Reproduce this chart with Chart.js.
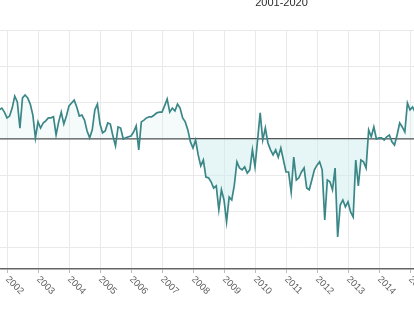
<!DOCTYPE html>
<html><head><meta charset="utf-8">
<script src="https://cdn.jsdelivr.net/npm/chart.js@4/dist/chart.umd.min.js"></script>
<style>
html,body{margin:0;padding:0;width:414px;height:311px;overflow:hidden;background:#fff;}
#wrap{position:absolute;left:-64px;top:-4px;width:691px;height:315px;}
</style></head><body>
<div id="wrap"><canvas id="c"></canvas></div>
<script>
const titleText = '2001-2020';
const startYear = 2001;
const startMonth = 9; // first value is September 2001
const values = [
  0.70, 0.80, 0.85, 0.74,
  0.58, 0.63, 0.85, 1.18, 1.02, 0.30, 1.13, 1.21, 1.13, 0.96, 0.66, 0.03,
  0.47, 0.30, 0.44, 0.50, 0.58, 0.58, 0.61, 0.11, 0.47, 0.74, 0.41, 0.63,
  0.91, 0.99, 1.07, 0.88, 0.63, 0.66, 0.52, 0.22, 0.03, 0.25, 0.80, 0.96,
  0.41, 0.17, 0.22, 0.44, 0.41, 0.08, -0.19, 0.33, 0.30, 0.00, 0.03, 0.06,
  0.08, 0.19, 0.36, -0.30, 0.47, 0.52, 0.58, 0.61, 0.61, 0.66, 0.72, 0.74,
  0.74, 0.91, 1.10, 0.74, 0.85, 0.77, 0.96, 0.85, 0.58, 0.47, 0.25, -0.08,
  -0.25, -0.03, -0.44, -0.74, -0.58, -1.05, -1.07, -1.18, -1.35, -1.29, -1.95, -1.40,
  -1.68, -2.28, -1.60, -1.68, -1.27, -0.63, -0.80, -0.85, -0.77, -0.94, -0.85, -0.30,
  -0.77, -0.03, 0.72, -0.03, 0.30, -0.11, -0.30, -0.44, -0.30, -0.50, -0.25, -0.58,
  -0.91, -0.91, -1.46, -0.50, -1.13, -1.07, -0.91, -0.80, -1.35, -1.40, -1.13, -0.85,
  -0.72, -0.63, -0.85, -2.23, -1.13, -1.18, -1.40, -0.80, -2.70, -1.82, -1.68, -1.87,
  -1.73, -2.01, -2.15, -0.58, -1.29, -0.58, -0.63, -0.80, 0.25, 0.06, 0.33, 0.00,
  0.03, 0.03, -0.03, 0.06, 0.11, -0.08, -0.17, 0.11, 0.44, 0.33, 0.19, 0.99,
  0.80, 0.88, 0.74
];
const yearTicks = [2001,2002,2003,2004,2005,2006,2007,2008,2009,2010,2011,2012,2013,2014,2015,2016,2017,2018,2019,2020,2021];
const yTicks = [-3,-2,-1,0,1,2,3];
const yMin = -3.58, yMax = 3;
const xMin = 2001, xMax = 2022;

const points = values.map((v, i) => ({ x: startYear + (startMonth - 1 + i) / 12, y: v }));

const rotatedYearLabels = {
  id: 'rotatedYearLabels',
  afterDraw(chart) {
    const xs = chart.scales.x;
    const ctx = chart.ctx;
    ctx.save();
    ctx.font = '9.5px "Liberation Sans", Arial, sans-serif';
    ctx.fillStyle = '#5e5e5e';
    ctx.textAlign = 'left';
    ctx.textBaseline = 'top';
    yearTicks.forEach(yr => {
      const px = xs.getPixelForValue(yr);
      ctx.save();
      ctx.translate(px + 3.5, xs.top + 5.5);
      ctx.rotate(Math.PI / 4);
      ctx.fillText(String(yr), 0, 0);
      ctx.restore();
    });
    ctx.restore();
  }
};

new Chart(document.getElementById('c'), {
  type: 'line',
  data: {
    datasets: [{
      data: points,
      borderColor: '#3b8787',
      borderWidth: 1.7,
      pointRadius: 0,
      tension: 0,
      fill: { value: 0, above: 'rgba(215,238,238,0.25)', below: 'rgba(205,235,235,0.5)' },
      backgroundColor: 'rgba(205,235,235,0.45)'
    }]
  },
  options: {
    responsive: true,
    maintainAspectRatio: false,
    devicePixelRatio: 1,
    animation: false,
    layout: { padding: 0 },
    plugins: {
      legend: { display: false },
      tooltip: { enabled: false },
      title: {
        display: true,
        text: titleText,
        color: '#2a2a2a',
        font: { size: 11, family: '"Liberation Sans", Arial, sans-serif', weight: 'normal', lineHeight: 1.2 },
        padding: { top: 0, bottom: 20.8 }
      }
    },
    scales: {
      x: {
        type: 'linear',
        min: xMin, max: xMax,
        afterBuildTicks: s => { s.ticks = yearTicks.map(v => ({ value: v })); },
        afterFit: s => { s.height = 42; },
        ticks: { display: false },
        grid: { color: '#e9e9e9', lineWidth: 1, tickLength: 4, drawTicks: true, tickColor: '#bbb' },
        border: { color: '#666', width: 1.5 }
      },
      y: {
        type: 'linear',
        min: yMin, max: yMax,
        afterBuildTicks: s => { s.ticks = yTicks.map(v => ({ value: v })); },
        afterFit: s => { s.width = 40; },
        ticks: { display: false },
        grid: {
          color: c => (c.tick && c.tick.value === 0) ? '#555' : '#e9e9e9',
          lineWidth: c => (c.tick && c.tick.value === 0) ? 1.5 : 1,
          drawTicks: false
        },
        border: { display: false }
      }
    }
  },
  plugins: [rotatedYearLabels]
});
</script>
</body></html>
